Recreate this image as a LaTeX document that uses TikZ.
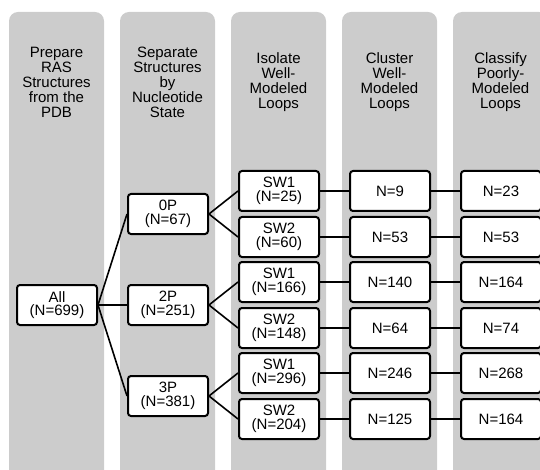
\documentclass[tikz,border=0pt]{standalone}
\usepackage{fontspec}
\setmainfont{Liberation Sans}
\usepackage{tikz}
\usetikzlibrary{positioning}
\usepackage{xcolor}
\definecolor{panelgray}{RGB}{204,204,204}

\begin{document}
\begin{tikzpicture}[x=1pt, y=-1pt,
  stage/.style={align=center, font=\fontsize{15}{15}\selectfont},
  box/.style={draw, fill=white, line width=2pt, rounded corners=3pt,
    minimum width=80pt, minimum height=40pt, inner sep=0pt, align=center,
    font=\fontsize{15}{13.5}\selectfont},
  link/.style={line width=1.6pt}]
  \useasboundingbox (0,0) rectangle (540,470);
  % grey panels, one per stage
  \begin{scope}
    \clip (0,0) rectangle (540,470);
    \foreach \x in {9,120,231,342,453}
      \fill[panelgray, rounded corners=9pt] (\x,12) rectangle ++(95,480);
  \end{scope}
  \node[stage] (prep) at (56.5,82) {Prepare\\RAS\\Structures\\from the\\PDB};
  \node[stage] (sep) at (167.5,82) {Separate\\Structures\\by\\Nucleotide\\State};
  \node[stage] (iso) at (278.5,82) {Isolate\\Well-\\Modeled\\Loops};
  \node[stage] (clu) at (389.5,82) {Cluster\\Well-\\Modeled\\Loops};
  \node[stage] (cla) at (500.5,82) {Classify\\Poorly-\\Modeled\\Loops};

  \node[box] (all) at (57,305) {All\\(N=699)};
  \node[box] (p0) at (168,214) {0P\\(N=67)};
  \node[box] (p2) at (168,305) {2P\\(N=251)};
  \node[box] (p3) at (168,396) {3P\\(N=381)};

  \node[box] (s01) at (279,191) {SW1\\(N=25)};
  \node[box] (s02) at (279,237) {SW2\\(N=60)};
  \node[box] (s21) at (279,282) {SW1\\(N=166)};
  \node[box] (s22) at (279,328) {SW2\\(N=148)};
  \node[box] (s31) at (279,373) {SW1\\(N=296)};
  \node[box] (s32) at (279,419) {SW2\\(N=204)};

  \node[box] (c01) at (390,191) {N=9};
  \node[box] (c02) at (390,237) {N=53};
  \node[box] (c21) at (390,282) {N=140};
  \node[box] (c22) at (390,328) {N=64};
  \node[box] (c31) at (390,373) {N=246};
  \node[box] (c32) at (390,419) {N=125};

  \node[box] (k01) at (501,191) {N=23};
  \node[box] (k02) at (501,237) {N=53};
  \node[box] (k21) at (501,282) {N=164};
  \node[box] (k22) at (501,328) {N=74};
  \node[box] (k31) at (501,373) {N=268};
  \node[box] (k32) at (501,419) {N=164};

  \foreach \p in {p0,p2,p3}
    \draw[link] (all.east) -- (\p.west);
  \foreach \p/\s in {p0/s0,p2/s2,p3/s3} {
    \draw[link] (\p.east) -- (\s1.west);
    \draw[link] (\p.east) -- (\s2.west);
  }
  \foreach \s in {01,02,21,22,31,32} {
    \draw[link] (s\s.east) -- (c\s.west);
    \draw[link] (c\s.east) -- (k\s.west);
  }
\end{tikzpicture}
\end{document}
